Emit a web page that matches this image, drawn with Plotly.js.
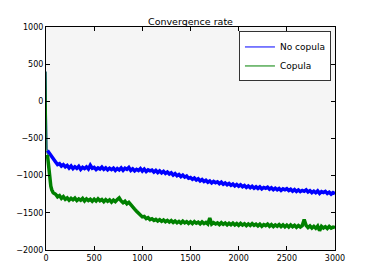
<!DOCTYPE html>
<html>
<head>
<meta charset="utf-8">
<script src="https://cdn.plot.ly/plotly-3.0.1.min.js"></script>
<style>html,body{margin:0;padding:0;background:#fff;}#chart{width:373px;height:280px;}</style>
</head>
<body>
<div id="chart"></div>
<script>
const iterations = [0, 3, 6, 10, 15, 20, 30, 40, 50, 60, 75,
  100, 120, 140, 160, 180, 200, 220, 240, 260, 280, 300, 320, 340, 360, 380,
  400, 420, 440, 460, 480, 500, 520, 540, 560, 580, 600, 620, 640, 660, 680,
  700, 720, 740, 760, 780, 800, 820, 840, 860, 880, 900, 920, 940, 960, 980,
  1000, 1020, 1040, 1060, 1080, 1100, 1120, 1140, 1160, 1180, 1200, 1220, 1240, 1260, 1280,
  1300, 1320, 1340, 1360, 1380, 1400, 1420, 1440, 1460, 1480, 1500, 1520, 1540, 1560, 1580,
  1600, 1620, 1640, 1660, 1680, 1700, 1720, 1740, 1760, 1780, 1800, 1820, 1840, 1860, 1880,
  1900, 1920, 1940, 1960, 1980, 2000, 2020, 2040, 2060, 2080, 2100, 2120, 2140, 2160, 2180,
  2200, 2220, 2240, 2260, 2280, 2300, 2320, 2340, 2360, 2380, 2400, 2420, 2440, 2460, 2480,
  2500, 2520, 2540, 2560, 2580, 2600, 2620, 2640, 2660, 2680, 2700, 2720, 2740, 2760, 2780,
  2800, 2820, 2840, 2860, 2880, 2900, 2920, 2940, 2960, 2980, 3000];

const noCopula = [400, -250, -560, -640, -660, -670, -690, -700, -720, -740, -780,
  -815, -850, -838, -872, -852, -882, -862, -898, -870, -905, -880, -902, -875, -915, -888,
  -905, -882, -910, -860, -900, -888, -918, -895, -910, -885, -915, -895, -922, -900, -918,
  -898, -930, -905, -922, -895, -928, -900, -915, -890, -930, -908, -935, -915, -930, -905,
  -938, -912, -945, -922, -935, -925, -952, -930, -958, -935, -962, -942, -970, -952, -978,
  -962, -992, -972, -1000, -985, -1012, -992, -1020, -1005, -1035, -1025, -1048, -1032, -1058, -1042,
  -1070, -1052, -1078, -1062, -1088, -1072, -1098, -1078, -1095, -1082, -1108, -1088, -1115, -1098, -1122,
  -1105, -1130, -1112, -1138, -1118, -1142, -1122, -1148, -1132, -1158, -1138, -1162, -1142, -1168, -1150,
  -1172, -1150, -1178, -1158, -1170, -1155, -1182, -1162, -1188, -1168, -1190, -1172, -1198, -1178, -1190,
  -1175, -1200, -1182, -1208, -1188, -1212, -1192, -1215, -1198, -1210, -1190, -1220, -1202, -1228, -1208,
  -1230, -1205, -1238, -1215, -1228, -1212, -1240, -1222, -1248, -1228, -1242];

const copula = [400, -450, -640, -690, -720, -790, -940, -1060, -1140, -1190, -1230,
  -1250, -1285, -1268, -1305, -1282, -1318, -1298, -1330, -1305, -1325, -1302, -1335, -1312, -1330, -1305,
  -1340, -1312, -1335, -1318, -1345, -1318, -1342, -1312, -1338, -1322, -1350, -1322, -1345, -1325, -1355,
  -1328, -1350, -1322, -1300, -1340, -1365, -1345, -1378, -1360, -1395, -1415, -1450, -1478, -1508, -1532,
  -1555, -1548, -1578, -1565, -1592, -1580, -1602, -1588, -1610, -1592, -1615, -1596, -1620, -1602, -1624,
  -1605, -1630, -1610, -1634, -1615, -1638, -1612, -1635, -1618, -1642, -1620, -1645, -1618, -1640, -1625,
  -1648, -1622, -1645, -1628, -1650, -1570, -1652, -1632, -1650, -1635, -1658, -1632, -1655, -1638, -1662,
  -1640, -1660, -1638, -1664, -1645, -1668, -1642, -1665, -1648, -1672, -1650, -1670, -1645, -1668, -1652,
  -1675, -1652, -1680, -1658, -1672, -1652, -1680, -1658, -1684, -1662, -1680, -1658, -1685, -1662, -1688,
  -1665, -1690, -1662, -1686, -1668, -1694, -1670, -1690, -1672, -1590, -1668, -1698, -1676, -1704, -1682,
  -1708, -1678, -1740, -1682, -1704, -1686, -1710, -1682, -1705, -1692, -1700];

const seriesNames = ['No copula', 'Copula'];
const xTicks = [0, 500, 1000, 1500, 2000, 2500, 3000];
const yTicks = [-2000, -1500, -1000, -500, 0, 500, 1000];

const font = 'DejaVu Sans, sans-serif';
const colors = ['#0000ff', '#008000'];
const nHead = 5;
const traces = [
  {x: iterations.slice(0, nHead), y: noCopula.slice(0, nHead), name: seriesNames[0], type: 'scatter', mode: 'lines',
   line: {color: colors[0], width: 1}, legendgroup: 'a'},
  {x: iterations.slice(0, nHead), y: copula.slice(0, nHead), name: seriesNames[1], type: 'scatter', mode: 'lines',
   line: {color: colors[1], width: 1}, legendgroup: 'b'},
  {x: iterations.slice(nHead - 1), y: noCopula.slice(nHead - 1), name: seriesNames[0], type: 'scatter', mode: 'lines',
   line: {color: colors[0], width: 3.5}, showlegend: false, legendgroup: 'a'},
  {x: iterations.slice(nHead - 1), y: copula.slice(nHead - 1), name: seriesNames[1], type: 'scatter', mode: 'lines',
   line: {color: colors[1], width: 3.5}, showlegend: false, legendgroup: 'b'}
];
const axisCommon = {
  showline: true, linecolor: '#000', linewidth: 1, mirror: 'ticks',
  ticks: 'inside', ticklen: 4, tickcolor: '#000', tickwidth: 1,
  showgrid: false, zeroline: false, tickfont: {family: font, size: 8, color: '#000'}
};
const layout = {
  width: 373, height: 280,
  margin: {l: 46, r: 38, t: 27, b: 30},
  paper_bgcolor: '#ffffff', plot_bgcolor: '#f5f5f5',
  title: {text: 'Convergence rate', font: {family: font, size: 9.5, color: '#000'},
          x: 0.5, xref: 'paper', y: 1, yref: 'paper', yanchor: 'bottom', pad: {b: 2}},
  xaxis: Object.assign({}, axisCommon, {range: [0, 3000], tickvals: xTicks}),
  yaxis: Object.assign({}, axisCommon, {range: [-2000, 1000], tickvals: yTicks}),
  showlegend: true,
  legend: {x: 0.986, xanchor: 'right', y: 0.98, yanchor: 'top', bgcolor: '#ffffff',
           bordercolor: '#333', borderwidth: 1, font: {family: font, size: 9, color: '#000'},
           itemwidth: 30, tracegroupgap: 0, traceorder: 'normal'}
};
Plotly.newPlot('chart', traces, layout, {displayModeBar: false, staticPlot: true});
</script>
</body>
</html>
